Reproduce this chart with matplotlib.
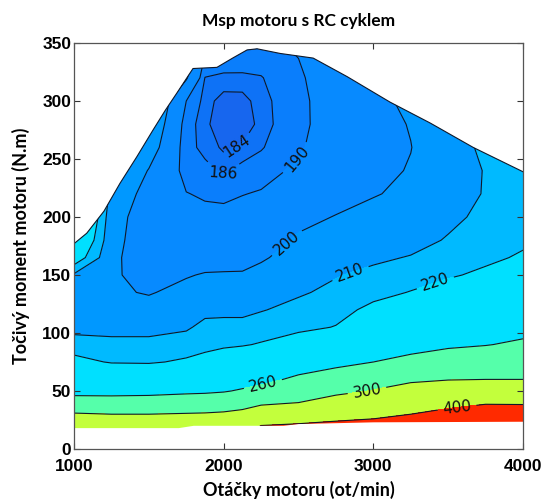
import numpy as np
import matplotlib
matplotlib.use("Agg")
import matplotlib.pyplot as plt
from matplotlib.colors import ListedColormap, BoundaryNorm
from matplotlib.path import Path
from matplotlib.patches import PathPatch

# ---------------- data ----------------
speed = [1000, 1250, 1500, 1750, 1875, 2000, 2125, 2250, 2500, 2750, 3000, 3250, 3500, 3750, 4000]
torque = [10, 20, 30, 40, 50, 60, 75, 90, 105, 120, 135, 150, 165, 180, 200,
          220, 240, 260, 280, 300, 320, 340, 360]

# specific fuel consumption (g/kWh), one list per engine speed (rows = torque)
msp_1000 = [420, 350, 303, 272, 252, 241, 224, 214, 207, 203.5, 204, 208.5, 228, 240, 250, 260, 270, 280, 290, 300, 310, 320, 330]
msp_1250 = [410, 340, 300, 271, 252, 237, 219, 212.5, 207, 203, 201, 201, 201.5, 202.5, 203.5, 206, 212, 215, 218, 220, 222, 224, 226]
msp_1500 = [405, 335, 300, 273, 252, 237, 218.5, 212.5, 207, 202.5, 199.5, 197.5, 196, 195.5, 195.5, 197, 199.5, 205, 209, 212, 215, 220, 225]
msp_1750 = [400, 335, 302, 275, 255, 240, 222, 213.5, 209, 205, 202, 199.5, 196, 193.5, 191.5, 190.2, 187.8, 187, 187.5, 190, 201, 206, 212]
msp_1875 = [395, 335, 303, 276, 256, 242, 225, 216, 212, 208, 204, 200.5, 197, 194.5, 191.5, 189.3, 186.8, 185.2, 184.5, 184.8, 185.9, 190, 200]
msp_2000 = [390, 340, 305, 280, 258, 245, 228, 218, 212.5, 208, 204, 200.7, 197, 194.5, 191.8, 188.7, 185.5, 183.6, 182.6, 183.2, 185.2, 189, 198]
msp_2125 = [390, 345, 310, 285, 263, 248, 231, 219, 212.5, 208, 204, 200.7, 197.5, 195, 192.3, 189.8, 187, 184.3, 182.5, 183.2, 185.3, 188.5, 196]
msp_2250 = [440, 402, 325, 293, 268, 253, 236, 221, 214, 209.5, 205.5, 202.5, 199, 196.5, 193.8, 190.5, 187.8, 185.7, 184.8, 185, 185.8, 188, 195]
msp_2500 = [450, 412, 345, 300, 280, 265, 246, 227, 217, 212.5, 209, 206, 203.5, 201, 198, 194.5, 191.2, 189.2, 188.5, 188.5, 189, 190.2, 195]
msp_2750 = [455, 420, 370, 318, 290, 274, 253, 232, 220.5, 216, 212, 209.5, 206.5, 203.5, 200.3, 197.3, 195, 193.8, 193.3, 193.5, 194.5, 197, 203]
msp_3000 = [460, 430, 380, 330, 302, 283, 260, 240, 229, 223, 216.5, 212, 208.5, 206, 203, 199.4, 197.5, 196.5, 196.5, 197.5, 200, 205, 212]
msp_3250 = [470, 440, 400, 350, 318, 293, 268, 250, 237, 228, 220.5, 215, 210.5, 207, 204, 202, 200.6, 199.8, 200.5, 202, 205, 210, 216]
msp_3500 = [480, 450, 420, 380, 334, 298, 274, 256, 244, 234, 226, 218.5, 214, 210.7, 208, 206.5, 206, 206.5, 208, 211, 215, 220, 226]
msp_3750 = [490, 460, 430, 395, 355, 300, 278, 259, 247, 237, 229, 222.5, 217.5, 214, 212, 210.5, 210.4, 211.5, 213, 216, 220, 225, 230]
msp_4000 = [500, 470, 440, 392, 360, 300, 282, 264, 252, 242, 234, 227, 221.5, 218, 215, 213.5, 213, 214, 216, 219, 223, 228, 233]

# full-load torque curve (upper limit of the map)
fl_speed = [1000, 1085, 1200, 1307, 1420, 1528, 1610, 1688, 1795, 1955, 2060, 2156, 2223, 2377, 2598, 2825, 3112, 3380, 3667, 4000]
fl_torque = [177, 186, 205, 229, 252, 275, 292, 307, 328, 329, 337, 344, 345, 341, 337, 321, 299, 281, 260, 239]
# lower limit of the map
low_speed = [1000, 1700, 1800, 2400, 2500, 3000, 4000]
low_torque = [18, 18, 20, 20, 21.5, 23, 23.5]

levels = [184, 186, 190, 200, 210, 220, 260, 300, 400]
band_colors = ['#1766EE', '#0E72F6', '#0A7EFC', '#078AFF', '#0098FF',
               '#00BAFF', '#00E0FF', '#55FFAA', '#C3FF3C', '#FF2A00']

# ---------------- figure ----------------
fig = plt.figure(figsize=(5.43, 5.00), dpi=100)
ax = fig.add_axes([0.1363, 0.102, 0.8269, 0.812])

Z = np.array([msp_1000, msp_1250, msp_1500, msp_1750, msp_1875, msp_2000, msp_2125,
              msp_2250, msp_2500, msp_2750, msp_3000, msp_3250, msp_3500, msp_3750,
              msp_4000]).T
X, Y = np.meshgrid(speed, torque)

bounds = [0] + levels + [2000]
cmap = ListedColormap(band_colors)
norm = BoundaryNorm(bounds, cmap.N)

cf = ax.contourf(X, Y, Z, levels=bounds, cmap=cmap, norm=norm)
cl = ax.contour(X, Y, Z, levels=levels, colors='#101828', linewidths=0.8)

verts = list(zip(fl_speed, fl_torque)) + list(zip(low_speed[::-1], low_torque[::-1]))
verts.append(verts[0])
codes = [Path.MOVETO] + [Path.LINETO] * (len(verts) - 2) + [Path.CLOSEPOLY]
clip = PathPatch(Path(verts, codes), transform=ax.transData, facecolor='none', edgecolor='none')
ax.add_patch(clip)
cf.set_clip_path(clip)
cl.set_clip_path(clip)
ax.plot(fl_speed, fl_torque, color='#101828', lw=0.8)

label_pos = [(2080, 262), (1990, 236), (2490, 250), (2420, 178), (2850, 150),
             (3420, 141), (2260, 57), (2960, 48), (3560, 35)]
ax.clabel(cl, levels, manual=label_pos, inline=True, fontsize=11, fmt='%d',
          colors='#101010')

ax.set_xlim(1000, 4000)
ax.set_ylim(0, 350)
tick_font = dict(family='Liberation Sans', fontweight='bold', fontsize=12.5)
ax.set_xticks([1000, 2000, 3000, 4000], labels=['1000', '2000', '3000', '4000'], **tick_font)
ax.set_yticks(range(0, 351, 50), labels=[str(v) for v in range(0, 351, 50)], **tick_font)
ax.tick_params(direction='in', top=True, right=True, length=4, width=0.8,
               color='#333333')
ax.tick_params(axis='y', pad=2)
ax.tick_params(axis='x', pad=7)
for s in ax.spines.values():
    s.set_color('#555555')
    s.set_linewidth(0.9)

lab_font = dict(family='Lato', fontweight='bold', fontsize=13)
ax.set_title('Msp motoru s RC cyklem', pad=12, family='Lato', fontweight='bold', fontsize=12.5)
ax.set_xlabel('Otáčky motoru (ot/min)', labelpad=5, **lab_font)
ax.set_ylabel('Točivý moment motoru (N.m)', labelpad=9, **lab_font)

fig.savefig('out.png', dpi=100)
